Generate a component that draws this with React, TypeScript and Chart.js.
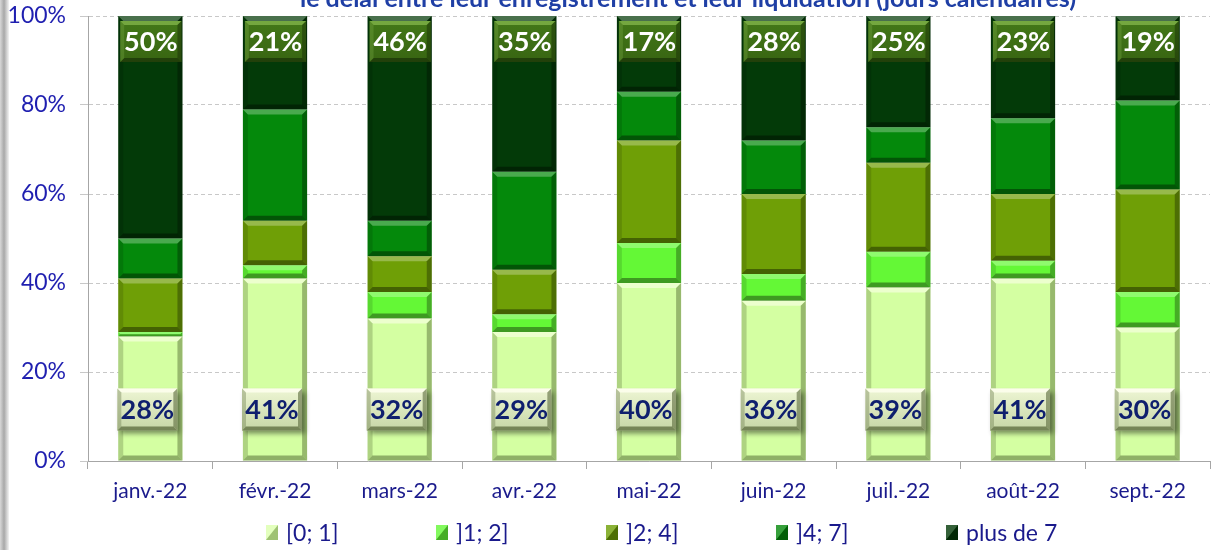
import React, { useEffect, useRef } from "react";
import { Chart, registerables } from "chart.js";

Chart.register(...registerables);

const categories = ["janv.-22", "févr.-22", "mars-22", "avr.-22", "mai-22", "juin-22", "juil.-22", "août-22", "sept.-22"];
const seriesNames = ["[0; 1]", "]1; 2]", "]2; 4]", "]4; 7]", "plus de 7"];
const s01 = [28, 41, 32, 29, 40, 36, 39, 41, 30];
const s12 = [1, 3, 6, 4, 9, 6, 8, 4, 8];
const s24 = [12, 10, 8, 10, 23, 18, 20, 15, 23];
const s47 = [9, 25, 8, 22, 11, 12, 8, 17, 20];
const s7p = [50, 21, 46, 35, 17, 28, 25, 23, 19];
const yTickValues = [0, 20, 40, 60, 80, 100];
const titleText = "le délai entre leur enregistrement et leur liquidation (jours calendaires)";

const seriesColors = ["#d4ffa2", "#64f836", "#6f9f06", "#04890b", "#033a08"];
const FONT = 'Lato, "Open Sans", "Liberation Sans", sans-serif';

function poly(ctx: CanvasRenderingContext2D, pts: number[][], fill: string) {
  ctx.beginPath();
  ctx.moveTo(pts[0][0], pts[0][1]);
  for (let i = 1; i < pts.length; i++) ctx.lineTo(pts[i][0], pts[i][1]);
  ctx.closePath();
  ctx.fillStyle = fill;
  ctx.fill();
}

function bevelRect(ctx: CanvasRenderingContext2D, l: number, t: number, r: number, b: number, s: number,
  top: string, bottom: string, left: string, right: string) {
  poly(ctx, [[l, t], [r, t], [r - s, t + s], [l + s, t + s]], top);
  poly(ctx, [[l, b], [r, b], [r - s, b - s], [l + s, b - s]], bottom);
  poly(ctx, [[l, t], [l + s, t + s], [l + s, b - s], [l, b]], left);
  poly(ctx, [[r, t], [r - s, t + s], [r - s, b - s], [r, b]], right);
}

const decorPlugin = {
  id: "decor",
  beforeDraw(chart: any) {
    const ctx = chart.ctx as CanvasRenderingContext2D;
    ctx.save();
    const g = ctx.createLinearGradient(0, 0, 9, 0);
    g.addColorStop(0, "#d8d8d8");
    g.addColorStop(0.45, "#a8a8a8");
    g.addColorStop(1, "#f4f4f4");
    ctx.fillStyle = g;
    ctx.fillRect(0, 0, 9, chart.height);
    ctx.restore();
  },
  afterDatasetsDraw(chart: any) {
    const ctx = chart.ctx as CanvasRenderingContext2D;
    ctx.save();
    chart.data.datasets.forEach((ds: any, di: number) => {
      const meta = chart.getDatasetMeta(di);
      meta.data.forEach((el: any) => {
        const p = el.getProps(["x", "y", "base", "width"], true);
        const l = p.x - p.width / 2, r = p.x + p.width / 2;
        const t = Math.min(p.y, p.base), b = Math.max(p.y, p.base);
        const s = Math.min(5, (b - t) / 2);
        if (s <= 0) return;
        const light = di === 0;
        bevelRect(ctx, l, t, r, b, s,
          light ? "rgba(255,255,240,0.55)" : "rgba(255,255,255,0.28)",
          light ? "rgba(60,80,30,0.45)" : "rgba(0,0,0,0.38)",
          light ? "rgba(60,80,30,0.25)" : "rgba(0,0,0,0.12)",
          light ? "rgba(60,80,30,0.4)" : "rgba(0,0,0,0.3)");
      });
    });

    const firstMeta = chart.getDatasetMeta(0);
    const lastIdx = chart.data.datasets.length - 1;
    const lastMeta = chart.getDatasetMeta(lastIdx);
    ctx.textAlign = "center";
    ctx.textBaseline = "middle";
    ctx.font = `bold 27px ${FONT}`;
    firstMeta.data.forEach((el: any, i: number) => {
      const p = el.getProps(["x", "y", "base", "width"], true);
      const cx = p.x - 3, cy = p.base - 51, w = 60, h = 42;
      const l = cx - w / 2, t = cy - h / 2, r = cx + w / 2, b = cy + h / 2;
      ctx.save();
      ctx.shadowColor = "rgba(0,0,0,0.45)";
      ctx.shadowBlur = 5;
      ctx.shadowOffsetX = 3;
      ctx.shadowOffsetY = 3;
      const g = ctx.createLinearGradient(0, t, 0, b);
      g.addColorStop(0, "#eef6d4");
      g.addColorStop(1, "#c6d6a6");
      ctx.fillStyle = g;
      ctx.fillRect(l, t, w, h);
      ctx.restore();
      bevelRect(ctx, l, t, r, b, 4, "rgba(255,255,240,0.8)", "rgba(90,105,60,0.75)", "rgba(120,135,90,0.45)", "rgba(90,105,60,0.6)");
      ctx.fillStyle = "#0f1f6e";
      ctx.fillText(chart.data.datasets[0].data[i] + "%", cx, cy + 1);
    });
    lastMeta.data.forEach((el: any, i: number) => {
      const p = el.getProps(["x", "y", "base", "width"], true);
      const l = p.x - p.width / 2 + 2, r = p.x + p.width / 2 - 1;
      const t = p.y + 5, b = t + 41;
      const g = ctx.createLinearGradient(0, t, 0, b);
      g.addColorStop(0, "#437818");
      g.addColorStop(1, "#386512");
      ctx.fillStyle = g;
      ctx.fillRect(l, t, r - l, b - t);
      bevelRect(ctx, l, t, r, b, 4, "rgba(150,200,90,0.6)", "rgba(20,40,5,0.6)", "rgba(120,170,70,0.35)", "rgba(20,40,5,0.45)");
      ctx.fillStyle = "#ffffff";
      ctx.fillText(chart.data.datasets[lastIdx].data[i] + "%", (l + r) / 2, (t + b) / 2 + 1);
    });
    ctx.restore();
  },
  afterDraw(chart: any) {
    const ctx = chart.ctx as CanvasRenderingContext2D;
    const area = chart.chartArea;
    ctx.save();
    ctx.font = `bold 25px ${FONT}`;
    ctx.fillStyle = "#1f3fa5";
    ctx.textAlign = "center";
    ctx.textBaseline = "alphabetic";
    ctx.fillText(titleText, 688, 7);

    ctx.font = `23px ${FONT}`;
    ctx.textAlign = "left";
    ctx.textBaseline = "middle";
    const y = 533;
    chart.data.datasets.forEach((ds: any, i: number) => {
      const x = area.left + 178 + i * 170;
      const bx = x, by = y - 8, bw = 12, bh = 15;
      ctx.fillStyle = ds.backgroundColor;
      ctx.fillRect(bx, by, bw, bh);
      poly(ctx, [[bx, by], [bx + bw, by], [bx, by + bh]], i === 0 ? "rgba(255,255,240,0.35)" : "rgba(255,255,255,0.2)");
      poly(ctx, [[bx + bw, by], [bx + bw, by + bh], [bx, by + bh]], i === 0 ? "rgba(60,80,30,0.35)" : "rgba(0,0,0,0.3)");
      ctx.fillStyle = "#1a1a8c";
      ctx.fillText(ds.label, x + 20, y + 1);
    });
    ctx.restore();
  },
};

export default function App() {
  const ref = useRef<HTMLCanvasElement | null>(null);
  useEffect(() => {
    if (!ref.current) return;
    const allSeries = [s01, s12, s24, s47, s7p];
    const chart = new Chart(ref.current, {
      type: "bar",
      data: {
        labels: categories,
        datasets: allSeries.map((d, i) => ({
          label: seriesNames[i],
          data: d,
          backgroundColor: seriesColors[i],
          borderWidth: 0,
          categoryPercentage: 1,
          barPercentage: 0.515,
        })),
      },
      options: {
        responsive: false,
        animation: false,
        layout: { padding: { top: 16, right: 2, left: 0, bottom: 0 } },
        plugins: {
          legend: { display: false },
          title: { display: false },
          tooltip: { enabled: false },
        },
        scales: {
          x: {
            stacked: true,
            offset: true,
            grid: {
              display: true,
              drawOnChartArea: false,
              drawTicks: true,
              tickLength: 8,
              color: "#a6a6a6",
              offset: true,
            },
            border: { display: true, color: "#a6a6a6", width: 1 },
            ticks: { color: "#1a1a8c", font: { family: FONT, size: 21 }, padding: 10, maxRotation: 0 },
            afterFit: (scale: any) => { scale.height = 89; scale.paddingLeft = 0; scale.paddingRight = 0; },
          },
          y: {
            stacked: true,
            min: 0,
            max: 100,
            afterBuildTicks: (scale: any) => { scale.ticks = yTickValues.map((v) => ({ value: v })); },
            grid: { color: "#c8c8c8", tickLength: 8, lineWidth: 1 },
            border: { display: true, color: "#a6a6a6", dash: [4, 3] },
            ticks: {
              color: "#1f1fb0",
              font: { family: FONT, size: 23 },
              padding: 14,
              callback: (v: any) => v + "%",
            },
            afterFit: (scale: any) => { scale.width = 88; scale.paddingTop = 0; scale.paddingBottom = 0; },
          },
        },
      },
      plugins: [decorPlugin],
    });
    return () => chart.destroy();
  }, []);
  return (
    <div style={{ position: "absolute", left: 0, top: 0, width: 1212, height: 550, background: "#ffffff" }}>
      <canvas ref={ref} width={1212} height={550} style={{ width: 1212, height: 550, display: "block" }} />
    </div>
  );
}
